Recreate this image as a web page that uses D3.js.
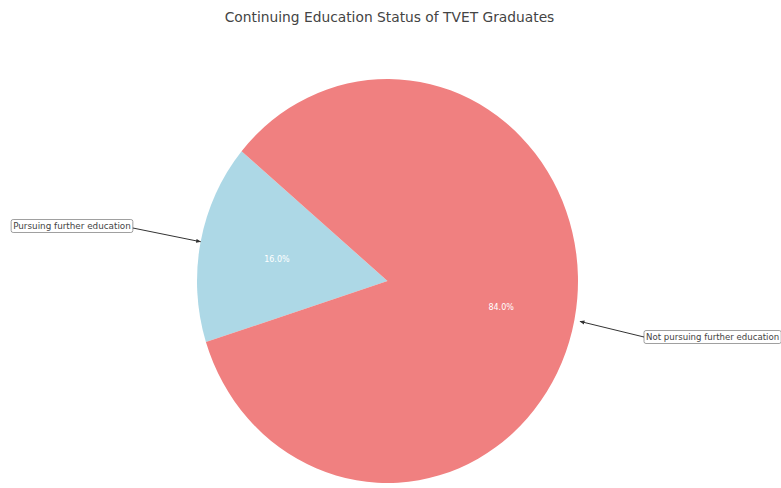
<!DOCTYPE html>
<html>
<head>
<meta charset="utf-8">
<script src="https://cdn.jsdelivr.net/npm/d3@7"></script>
<style>
  html, body { margin: 0; padding: 0; background: #fff; }
  svg { display: block; font-family: "DejaVu Sans", sans-serif; }
</style>
</head>
<body>
<svg id="chart" width="781" height="488"></svg>
<script>
// Share of TVET graduates by continuing-education status (percent)
const categories = ["Pursuing further education", "Not pursuing further education"];
const shares = [16.0, 84.0];
const sliceColors = ["#add8e6", "#f08080"];
const titleText = "Continuing Education Status of TVET Graduates";

const svg = d3.select("#chart");
const W = 781, H = 488;

// Pie geometry (slightly taller than wide)
const cx = 387.5, cy = 281, rx = 190.5, ry = 202;
const yScale = ry / rx;

// Start at 140° from the 3 o'clock direction, running counter-clockwise
const startDeg = 140;
const a0 = (90 - startDeg) * Math.PI / 180;
const pie = d3.pie().sort(null).value(d => d.value)
  .startAngle(a0).endAngle(a0 - 2 * Math.PI);
const data = pie(categories.map((c, i) => ({ name: c, value: shares[i], color: sliceColors[i] })));

const arc = d3.arc().innerRadius(0).outerRadius(rx);
const labelArc = d3.arc().innerRadius(rx * 0.6).outerRadius(rx * 0.6);

svg.append("text")
  .attr("x", W / 2 - 1).attr("y", 22)
  .attr("text-anchor", "middle")
  .attr("font-size", 13.8)
  .attr("fill", "#444")
  .text(titleText);

const g = svg.append("g")
  .attr("transform", `translate(${cx},${cy}) scale(1,${yScale})`);

g.selectAll("path.slice").data(data).join("path")
  .attr("class", "slice")
  .attr("d", arc)
  .attr("fill", d => d.data.color);

// Percentage labels inside each wedge
const labels = svg.append("g").attr("transform", `translate(${cx},${cy})`);
labels.selectAll("text").data(data).join("text")
  .attr("x", d => labelArc.centroid(d)[0] + 1.5)
  .attr("y", d => labelArc.centroid(d)[1] * yScale + 2.5)
  .attr("text-anchor", "middle")
  .attr("dominant-baseline", "central")
  .attr("font-size", 8)
  .attr("fill", "#fff")
  .text(d => d.data.value.toFixed(1) + "%");

// Arrow marker for callouts
svg.append("defs").append("marker")
  .attr("id", "arrow")
  .attr("viewBox", "0 0 10 10")
  .attr("refX", 9).attr("refY", 5)
  .attr("markerWidth", 5).attr("markerHeight", 5)
  .attr("orient", "auto")
  .append("path").attr("d", "M0,1 L10,5 L0,9 Z").attr("fill", "#333");

// Callout boxes with arrows to the wedge rim
const callouts = [
  { tx: 72, ty: 226, anchor: "middle", rim: 1.0, size: 8.8 },
  { tx: 646, ty: 337, anchor: "start", rim: 1.03, size: 8.6 }
];

data.forEach((d, i) => {
  const c = callouts[i];
  const edgeArc = d3.arc().innerRadius(rx * c.rim).outerRadius(rx * c.rim);
  const e = edgeArc.centroid(d);
  const ex = cx + e[0], ey = cy + e[1] * yScale;
  const t = svg.append("text")
    .attr("x", c.tx).attr("y", c.ty)
    .attr("text-anchor", c.anchor)
    .attr("dominant-baseline", "central")
    .attr("font-size", c.size)
    .attr("fill", "#444")
    .text(d.data.name);
  const bb = t.node().getBBox();
  const pad = 2;
  svg.insert("rect", "text")
    .attr("x", bb.x - pad).attr("y", bb.y - pad + 0.5)
    .attr("width", bb.width + 2 * pad).attr("height", bb.height + 2 * pad - 1)
    .attr("rx", 2).attr("ry", 2)
    .attr("fill", "#fff").attr("stroke", "#888").attr("stroke-width", 0.8);
  const sx = ex < cx ? bb.x + bb.width + pad : bb.x - pad;
  const sy = c.ty + (ex < cx ? 2 : 0);
  svg.append("line")
    .attr("x1", sx).attr("y1", sy)
    .attr("x2", ex).attr("y2", ey)
    .attr("stroke", "#333").attr("stroke-width", 1)
    .attr("marker-end", "url(#arrow)");
});
</script>
</body>
</html>
